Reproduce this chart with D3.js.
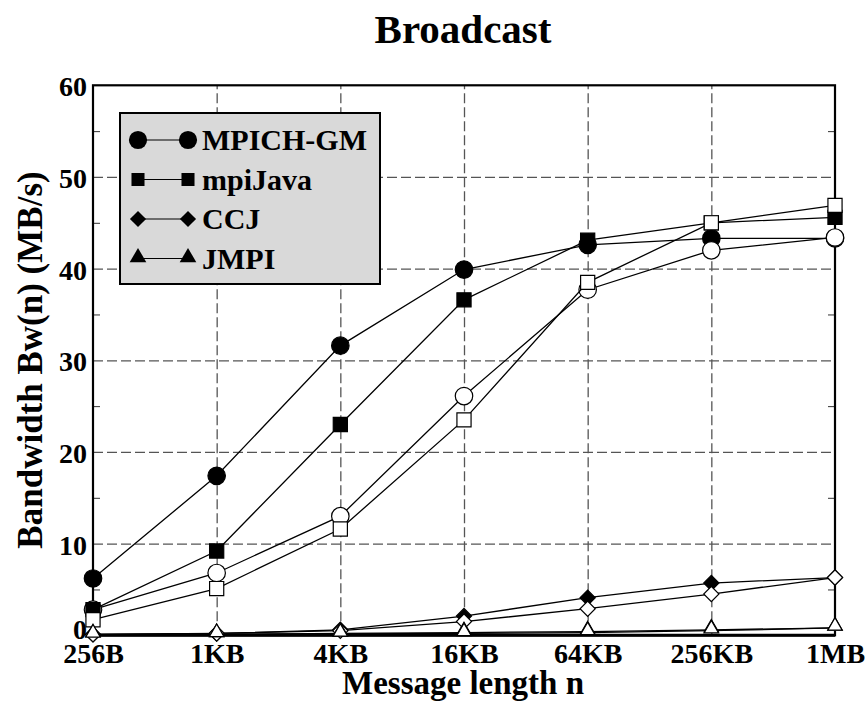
<!DOCTYPE html>
<html lang="en">
<head>
<meta charset="utf-8">
<title>Broadcast</title>
<script src="https://cdn.jsdelivr.net/npm/d3@7"></script>
<style>
  body { margin: 0; background: #fff; }
  text { font-family: "Liberation Serif", "Times New Roman", serif; font-weight: bold; fill: #000; }
</style>
</head>
<body>
<div id="chart"></div>
<script>
// message sizes
const sizes = ["256B", "1KB", "4KB", "16KB", "64KB", "256KB", "1MB"];
const yTicks = [0, 10, 20, 30, 40, 50, 60];
const yMinor = [5, 15, 25, 35, 45, 55];

// bandwidth in MB/s (filled = first set, open = second set)
const mpichFilled = [6.2, 17.4, 31.6, 39.9, 42.6, 43.3, 43.3];
const mpichOpen   = [2.8, 6.8, 13.0, 26.1, 37.7, 42.0, 43.4];
const javaFilled  = [2.8, 9.2, 23.0, 36.6, 43.1, 45.0, 45.6];
const javaOpen    = [1.7, 5.1, 11.6, 23.5, 38.5, 45.0, 46.9];
const ccjFilled   = [0.1, 0.2, 0.6, 2.1, 4.1, 5.7, 6.3];
const ccjOpen     = [0.1, 0.2, 0.5, 1.5, 2.9, 4.5, 6.3];
const jmpiFilled  = [0.05, 0.1, 0.2, 0.3, 0.4, 0.6, 0.8];
const jmpiOpen    = [0.05, 0.1, 0.15, 0.2, 0.3, 0.5, 0.8];

const legendNames = ["MPICH-GM", "mpiJava", "CCJ", "JMPI"];

// diamonds are squares turned 45 degrees
const series = [
  { v: mpichFilled, sym: d3.symbolCircle, size: 240, rot: 0, open: false },
  { v: mpichOpen,   sym: d3.symbolCircle, size: 240, rot: 0, open: true },
  { v: javaFilled,  sym: d3.symbolSquare, size: 200, rot: 0, open: false },
  { v: javaOpen,    sym: d3.symbolSquare, size: 200, rot: 0, open: true },
  { v: ccjFilled,   sym: d3.symbolSquare, size: 115, rot: 45, open: false },
  { v: ccjOpen,     sym: d3.symbolSquare, size: 115, rot: 45, open: true },
  { v: jmpiFilled,  sym: d3.symbolTriangle, size: 90, rot: 0, open: false },
  { v: jmpiOpen,    sym: d3.symbolTriangle, size: 90, rot: 0, open: true }
];

const W = 868, H = 701;
const pLeft = 93, pRight = 835, pTop = 85.3, pBottom = 635.3;

const svg = d3.select("#chart").append("svg")
  .attr("width", W)
  .attr("height", H);

const x = d3.scalePoint().domain(sizes).range([pLeft, pRight]);
const y = d3.scaleLinear().domain([0, 60]).range([pBottom, pTop]);

// grid
svg.append("g")
  .attr("transform", `translate(${pLeft},0)`)
  .call(d3.axisLeft(y).tickValues([10, 20, 30, 40, 50]).tickSize(-(pRight - pLeft)).tickFormat(""))
  .call(g => g.select(".domain").remove())
  .selectAll("line")
    .attr("stroke", "#555")
    .attr("stroke-width", 1.3)
    .attr("stroke-dasharray", "10,4");

svg.append("g")
  .attr("transform", `translate(0,${pBottom})`)
  .call(d3.axisBottom(x).tickValues(sizes.slice(1, -1)).tickSize(-(pBottom - pTop)).tickFormat(""))
  .call(g => g.select(".domain").remove())
  .selectAll("line")
    .attr("stroke", "#555")
    .attr("stroke-width", 1.3)
    .attr("stroke-dasharray", "10,4");

// minor ticks, inward on both sides
svg.append("g")
  .attr("transform", `translate(${pLeft},0)`)
  .call(d3.axisLeft(y).tickValues(yMinor).tickSize(-7).tickFormat(""))
  .call(g => g.select(".domain").remove())
  .selectAll("line").attr("stroke", "#333");

svg.append("g")
  .attr("transform", `translate(${pRight},0)`)
  .call(d3.axisRight(y).tickValues(yMinor).tickSize(-7).tickFormat(""))
  .call(g => g.select(".domain").remove())
  .selectAll("line").attr("stroke", "#333");

// frame
svg.append("rect")
  .attr("x", pLeft).attr("y", pTop)
  .attr("width", pRight - pLeft).attr("height", pBottom - pTop)
  .attr("fill", "none")
  .attr("stroke", "#000")
  .attr("stroke-width", 2.2);

// axis labels
svg.append("g")
  .attr("transform", `translate(${pLeft},0)`)
  .call(d3.axisLeft(y).tickValues(yTicks).tickSize(0).tickPadding(6))
  .call(g => g.select(".domain").remove())
  .selectAll("text")
    .attr("dy", d => d === 0 ? "0.1em" : "0.38em")
    .style("font-size", "28px")
    .style("font-family", "'Liberation Serif', serif")
    .style("font-weight", "bold");

svg.append("g")
  .attr("transform", `translate(0,${pBottom})`)
  .call(d3.axisBottom(x).tickSize(0).tickPadding(8))
  .call(g => g.select(".domain").remove())
  .selectAll("text")
    .style("font-size", "28px")
    .style("font-family", "'Liberation Serif', serif")
    .style("font-weight", "bold");

svg.append("line")
  .attr("x1", pLeft).attr("x2", pRight)
  .attr("y1", pBottom).attr("y2", pBottom)
  .attr("stroke", "#000").attr("stroke-width", 3);

// lines and markers
const line = d3.line()
  .x((d, i) => x(sizes[i]))
  .y(d => y(d));

series.forEach(s => {
  const g = svg.append("g");
  g.append("path")
    .attr("d", line(s.v))
    .attr("fill", "none")
    .attr("stroke", "#000")
    .attr("stroke-width", 1.3);
  g.selectAll("path.pt")
    .data(s.v)
    .enter()
    .append("path")
      .attr("class", "pt")
      .attr("d", d3.symbol().type(s.sym).size(s.size))
      .attr("transform", (d, i) => {
        const ty = s.sym === d3.symbolTriangle ? y(d) - 2 : y(d);
        return `translate(${x(sizes[i])},${ty}) rotate(${s.rot})`;
      })
      .attr("fill", s.open ? "#fff" : "#000")
      .attr("stroke", "#000")
      .attr("stroke-width", 1.2);
});

// titles
svg.append("text")
  .attr("x", 463).attr("y", 43)
  .attr("text-anchor", "middle")
  .style("font-size", "41px")
  .text("Broadcast");

svg.append("text")
  .attr("x", 463).attr("y", 694)
  .attr("text-anchor", "middle")
  .style("font-size", "33px")
  .text("Message length n");

svg.append("text")
  .attr("transform", "translate(42,360) rotate(-90)")
  .attr("text-anchor", "middle")
  .style("font-size", "35px")
  .text("Bandwidth Bw(n) (MB/s)");

// legend
const leg = svg.append("g");
leg.append("rect")
  .attr("x", 120).attr("y", 113)
  .attr("width", 260).attr("height", 171)
  .attr("fill", "#d9d9d9")
  .attr("stroke", "#000")
  .attr("stroke-width", 2);

const legSyms = [
  { sym: d3.symbolCircle, size: 260, rot: 0 },
  { sym: d3.symbolSquare, size: 170, rot: 0 },
  { sym: d3.symbolSquare, size: 130, rot: 45 },
  { sym: d3.symbolTriangle, size: 120, rot: 0 }
];

legendNames.forEach((name, i) => {
  const cy = 140 + i * 39.5;
  const ls = legSyms[i];
  leg.append("line")
    .attr("x1", 138).attr("x2", 188)
    .attr("y1", cy).attr("y2", cy)
    .attr("stroke", "#000").attr("stroke-width", 1.2);
  [138, 188].forEach(cx => {
    leg.append("path")
      .attr("d", d3.symbol().type(ls.sym).size(ls.size))
      .attr("transform", `translate(${cx},${ls.sym === d3.symbolTriangle ? cy - 1 : cy}) rotate(${ls.rot})`)
      .attr("fill", "#000");
  });
  leg.append("text")
    .attr("x", 202).attr("y", cy + 10)
    .style("font-size", "30px")
    .text(name);
});
</script>
</body>
</html>
